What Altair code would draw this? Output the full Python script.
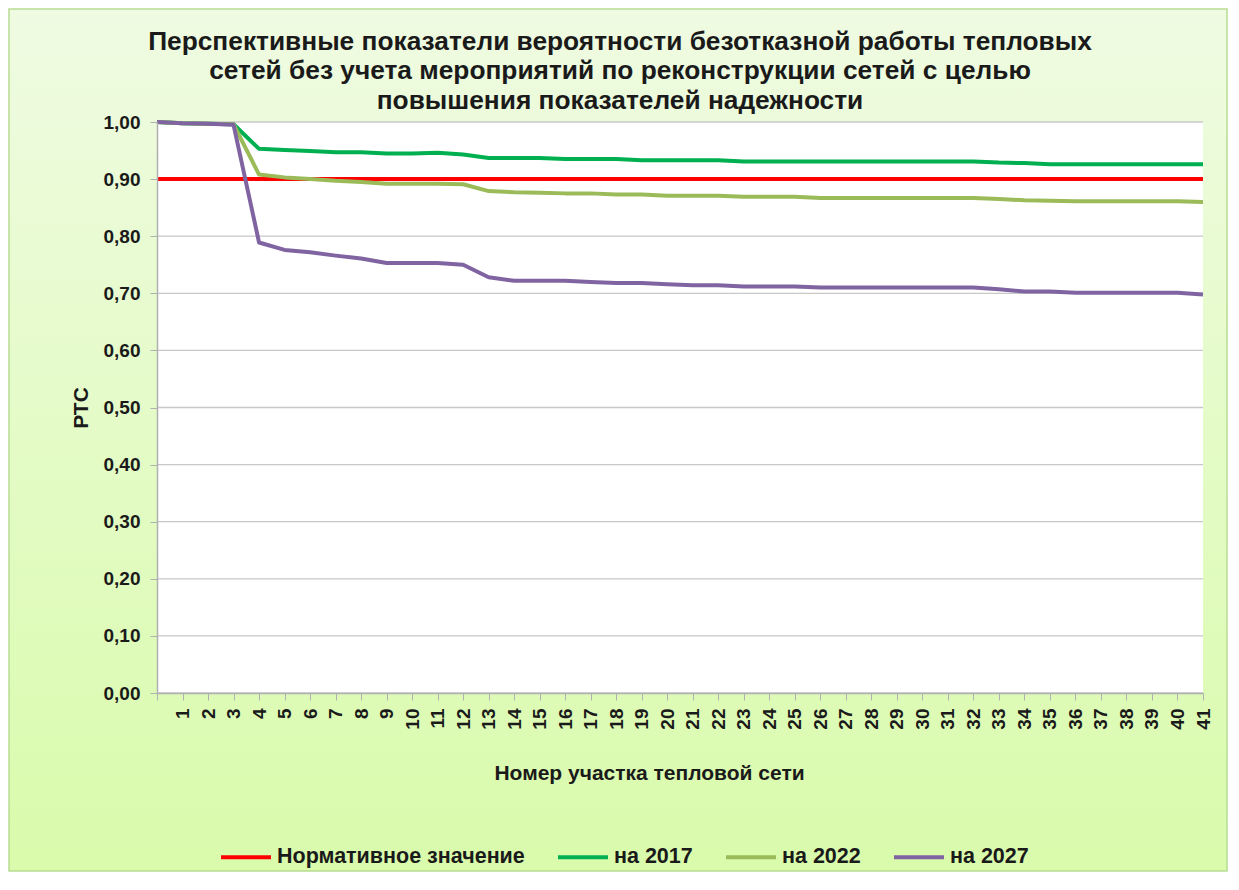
import altair as alt
import pandas as pd

# ---- data ----
section = list(range(0, 42))  # 0 = start point (unlabelled), 1..41 = network sections
norm = [0.90] * 42
y2017 = [1.000, 0.998, 0.997, 0.996, 0.953, 0.951, 0.949, 0.947, 0.947, 0.945,
         0.945, 0.946, 0.943, 0.937, 0.937, 0.937, 0.935, 0.935, 0.935, 0.933,
         0.933, 0.933, 0.933, 0.931, 0.931, 0.931, 0.931, 0.931, 0.931, 0.931,
         0.931, 0.931, 0.931, 0.929, 0.928, 0.926, 0.926, 0.926, 0.926, 0.926,
         0.926, 0.926]
y2022 = [1.000, 0.998, 0.997, 0.996, 0.908, 0.903, 0.900, 0.897, 0.895, 0.892,
         0.892, 0.892, 0.891, 0.879, 0.877, 0.876, 0.875, 0.875, 0.873, 0.873,
         0.871, 0.871, 0.871, 0.869, 0.869, 0.869, 0.867, 0.867, 0.867, 0.867,
         0.867, 0.867, 0.867, 0.865, 0.863, 0.862, 0.861, 0.861, 0.861, 0.861,
         0.861, 0.860]
y2027 = [1.000, 0.998, 0.997, 0.995, 0.789, 0.776, 0.772, 0.766, 0.761, 0.753,
         0.753, 0.753, 0.750, 0.728, 0.722, 0.722, 0.722, 0.720, 0.718, 0.718,
         0.716, 0.714, 0.714, 0.712, 0.712, 0.712, 0.710, 0.710, 0.710, 0.710,
         0.710, 0.710, 0.710, 0.707, 0.703, 0.703, 0.701, 0.701, 0.701, 0.701,
         0.701, 0.698]
series_names = ["Нормативное значение", "на 2017", "на 2022", "на 2027"]
series_colors = ["#ff0000", "#00b050", "#9bbb59", "#8064a2"]
y_ticks = [0.0, 0.1, 0.2, 0.3, 0.4, 0.5, 0.6, 0.7, 0.8, 0.9, 1.0]
x_ticks = list(range(0, 42))

title_lines = ["Перспективные показатели вероятности безотказной работы тепловых",
               "сетей без учета  мероприятий по реконструкции сетей с целью",
               "повышения показателей надежности"]

rows = []
for name, vals in zip(series_names, [norm, y2017, y2022, y2027]):
    for s, v in zip(section, vals):
        rows.append({"section": s, "value": v, "series": name,
                     "order": series_names.index(name)})
df = pd.DataFrame(rows)
grid_df = pd.DataFrame({"tick": y_ticks})

W, H = 1046, 571
PL, PT, PR, PB = 149, 114, 26, 180
FONT = "Liberation Sans"
TXT = "#1a1a1a"
AX = "#b0b0b0"

bg = alt.Chart(pd.DataFrame({"a": [0]})).mark_rect(
    fill=alt.Gradient(gradient="linear", x1=0, y1=0, x2=0, y2=1,
                      stops=[alt.GradientStop(offset=0, color="#effbe2"),
                             alt.GradientStop(offset=1, color="#d9fbab")]),
    stroke="#b9dc93", strokeWidth=1.5
).encode(x=alt.value(-PL + 1), x2=alt.value(W + PR - 2),
         y=alt.value(-PT + 1), y2=alt.value(H + PB - 2))

plotbg = alt.Chart(pd.DataFrame({"a": [0]})).mark_rect(fill="white").encode(
    x=alt.value(0), x2=alt.value(W), y=alt.value(0), y2=alt.value(H))

x_scale = alt.Scale(domain=[0, 41], nice=False, zero=False)
y_scale = alt.Scale(domain=[0, 1], nice=False)

y_axis = alt.Axis(values=y_ticks, grid=False,
                  labelExpr="replace(format(datum.value, '.2f'), '.', ',')",
                  title="РТС", titlePadding=12, tickSize=7, labelPadding=10,
                  domainColor=AX, tickColor=AX, zindex=2,
                  labelFont=FONT, titleFont=FONT,
                  labelFontWeight="bold", titleFontWeight="bold",
                  labelColor=TXT, titleColor=TXT,
                  domainWidth=1.5, labelFontSize=19, titleFontSize=21)

grid = alt.Chart(grid_df).mark_rule(color="#c8c8c8", strokeWidth=1.3).encode(
    y=alt.Y("tick:Q", scale=y_scale, axis=y_axis, title="РТС"),
    x=alt.value(0), x2=alt.value(W))

lines = alt.Chart(df).mark_line(strokeWidth=4, strokeJoin="round").encode(
    x=alt.X("section:Q", scale=x_scale,
            axis=alt.Axis(values=x_ticks, labelAngle=270,
                          labelExpr="datum.value == 0 ? '' : datum.label",
                          title="Номер участка тепловой сети",
                          titleX=492, titleY=80, titleBaseline="middle",
                          grid=False, tickSize=7, labelPadding=8,
                          domainColor=AX, tickColor=AX, zindex=2,
                          labelFont=FONT, titleFont=FONT,
                          labelFontWeight="bold", titleFontWeight="bold",
                          labelColor=TXT, titleColor=TXT,
                          domainWidth=1.5, labelFontSize=19, titleFontSize=21)),
    y=alt.Y("value:Q", scale=y_scale, axis=y_axis, title="РТС"),
    color=alt.Color("series:N",
                    scale=alt.Scale(domain=series_names, range=series_colors),
                    legend=alt.Legend(title=None, orient="none", direction="horizontal",
                                      legendX=62, legendY=708, zindex=2,
                                      symbolType="stroke", symbolSize=2500,
                                      symbolStrokeWidth=4, labelFontSize=21.5,
                                      labelFont=FONT, labelFontWeight="bold",
                                      labelColor=TXT, labelOffset=4,
                                      columnPadding=25, labelLimit=400)),
    order=alt.Order("order:Q"),
    detail="series:N",
)

chart = alt.layer(bg, plotbg, grid, lines).properties(
    width=W, height=H,
    autosize=alt.AutoSizeParams(type="none"),
    padding={"left": PL, "top": PT, "right": PR, "bottom": PB},
    title=alt.TitleParams(text=title_lines, fontSize=26.3, font=FONT, fontWeight="bold",
                          color=TXT, anchor="middle", dx=-60, dy=106, offset=0,
                          lineHeight=29.5, zindex=2),
).configure(background="white").configure_view(stroke=None)

chart.save("out.html", embed_options={"renderer": "svg", "actions": False})
